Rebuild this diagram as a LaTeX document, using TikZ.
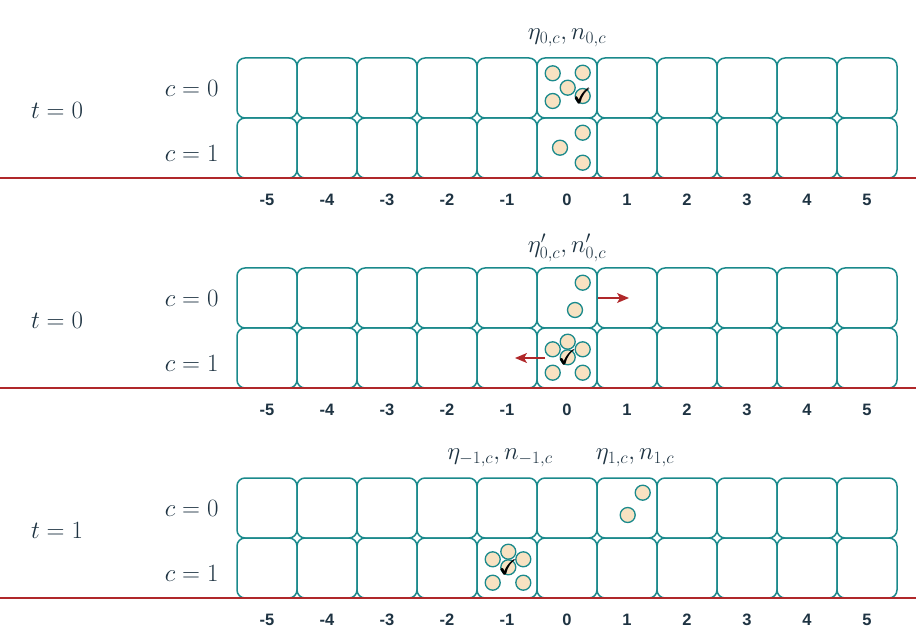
\documentclass[tikz,border=0pt]{standalone}
\usepackage{amsmath,amssymb}
\usepackage{fontspec}
\newfontfamily\numfont{Liberation Sans}
\usetikzlibrary{arrows.meta}
\definecolor{tealc}{HTML}{1B8A8C}
\definecolor{redc}{HTML}{B0282A}
\definecolor{inkc}{HTML}{1E3342}
\definecolor{wheatc}{HTML}{F8E2C2}
\begin{document}
\begin{tikzpicture}[x=1pt,y=-1pt,
  cellbox/.style={draw=tealc, line width=1.5pt, rounded corners=8pt, minimum width=60pt, minimum height=60pt, inner sep=0pt},
  part/.style={circle, draw=tealc, fill=wheatc, line width=1.3pt, minimum size=15pt, inner sep=0pt},
  chk/.style={inner sep=0pt, font=\fontsize{21}{21}\selectfont, text=black},
  lbl/.style={text=inkc, font=\fontsize{25}{29}\selectfont},
  num/.style={text=inkc, font=\fontsize{16.5}{20}\selectfont\numfont\bfseries},
  baseline/.style={draw=redc, line width=1.5pt},
  mv/.style={draw=redc, line width=1.3pt, -{Stealth[length=12pt,width=10pt,inset=3pt]}}]
\useasboundingbox (0,0) rectangle (916,644);
\foreach \p/\top in {A/58, B/268, C/478} {
  \foreach \i in {-5,...,5} {
    \node[cellbox] (\p\i r0) at ({567+60*\i}, {\top+30}) {};
    \node[cellbox] (\p\i r1) at ({567+60*\i}, {\top+90}) {};
    \node[num] (\p n\i) at ({567+60*\i}, {\top+142}) {\i};
  }
  \node[lbl, anchor=east] (\p c0) at (222, {\top+30}) {$c=0$};
  \node[lbl, anchor=east] (\p c1) at (222, {\top+95}) {$c=1$};
  \coordinate (\p L) at (0, {\top+120});
  \coordinate (\p R) at (916, {\top+120});
  \draw[baseline] (\p L) -- (\p R);
}
\node[lbl] (tA) at (57,110) {$t=0$};
\node[lbl] (tB) at (57,320) {$t=0$};
\node[lbl] (tC) at (57,530) {$t=1$};
\node[lbl] (hA) at (567,38) {$\eta_{0,c},n_{0,c}$};
\node[lbl] (hB) at (567,248) {$\eta'_{0,c},n'_{0,c}$};
\node[lbl] (hC1) at (500,458) {$\eta_{-1,c},n_{-1,c}$};
\node[lbl] (hC2) at (635,458) {$\eta_{1,c},n_{1,c}$};
% panel A
\node[part] (a1) at (552.7,73.3) {};
\node[part] (a2) at (582.7,72.7) {};
\node[part] (a3) at (567.7,87.7) {};
\node[part] (a4) at (582.7,96) {};
\node[part] (a5) at (552.7,101) {};
\node[chk] (ak) at (582.7,96) {$\pmb{\checkmark}$};
\node[part] (a6) at (582.7,132.7) {};
\node[part] (a7) at (560,147.7) {};
\node[part] (a8) at (582.7,162.7) {};
% panel B
\node[part] (b1) at (582.7,282.7) {};
\node[part] (b2) at (575,310) {};
\node[part] (b3) at (567.7,341.7) {};
\node[part] (b4) at (552.7,349.3) {};
\node[part] (b5) at (582.7,349.3) {};
\node[part] (b6) at (567.7,357.3) {};
\node[part] (b7) at (552.7,372.7) {};
\node[part] (b8) at (582.7,372.7) {};
\node[chk] (bk) at (567.7,357.3) {$\pmb{\checkmark}$};
\coordinate (bR) at (629,298);
\coordinate (bLs) at (545,358);
\coordinate (bLe) at (515,358);
\draw[mv] (B0r0.east) -- (bR);
\draw[mv] (bLs) -- (bLe);
% panel C
\node[part] (c1) at (642.7,492.7) {};
\node[part] (c2) at (627.7,515) {};
\node[part] (c3) at (508.3,551.7) {};
\node[part] (c4) at (492.7,559.3) {};
\node[part] (c5) at (523.3,559.3) {};
\node[part] (c6) at (508.3,567.3) {};
\node[part] (c7) at (492.7,582.7) {};
\node[part] (c8) at (523.3,582.7) {};
\node[chk] (ck) at (508.3,567.3) {$\pmb{\checkmark}$};
\end{tikzpicture}
\end{document}
